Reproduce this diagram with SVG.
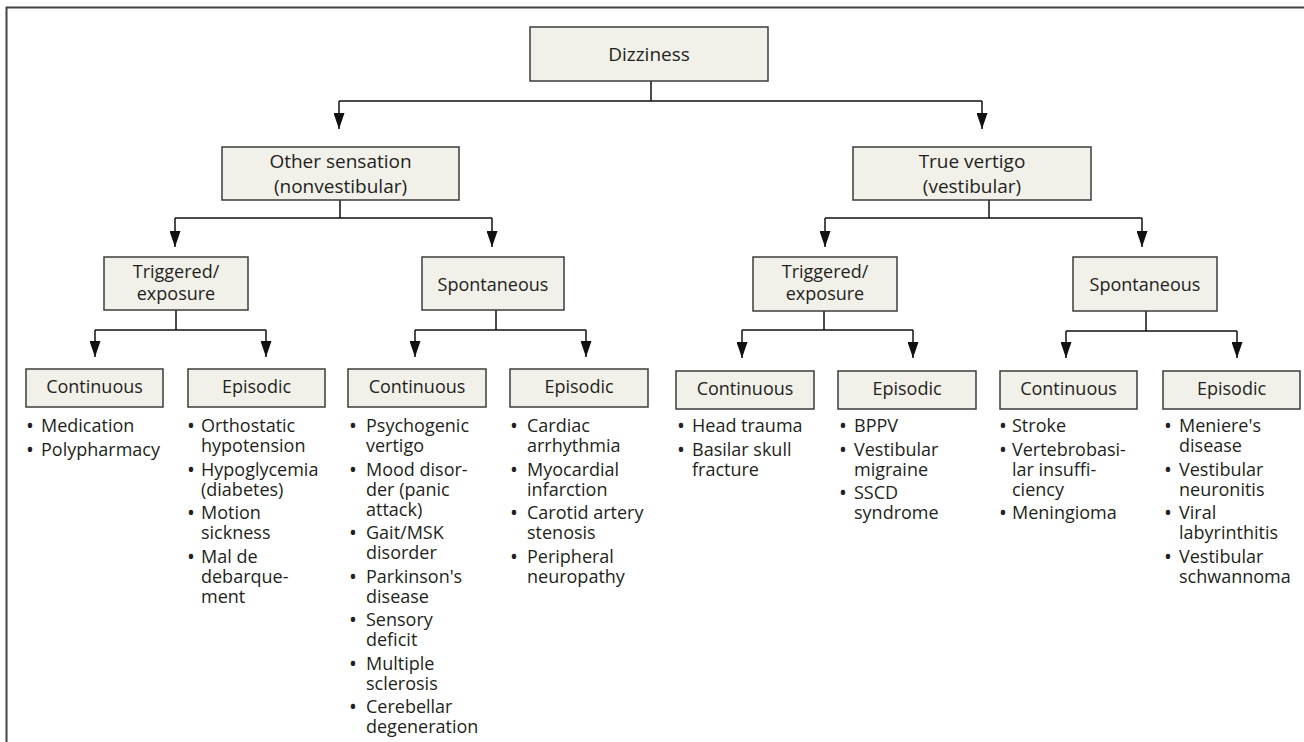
<svg xmlns="http://www.w3.org/2000/svg" width="1304" height="742" viewBox="0 0 1304 742">
<style>
.bx{fill:#f1f0e9;stroke:#3c3c3c;stroke-width:1.5}
.t{font-family:"Open Sans","Noto Sans","Liberation Sans",sans-serif;font-size:18px;fill:#231f20}
.tc{text-anchor:middle}
.big{font-size:19px}
.bu{text-anchor:middle;font-size:21px}
.c{stroke:#111;stroke-width:1.5;fill:none}
.a{stroke:#111;stroke-width:1.5;fill:none;marker-end:url(#ah)}
.frame{stroke:#444;stroke-width:2;fill:none}
</style>
<defs>
<marker id="ah" viewBox="0 0 16 11" refX="16" refY="5.5" markerWidth="16" markerHeight="11" markerUnits="userSpaceOnUse" orient="auto">
<path d="M0,0 L16,5.5 L0,11 z" fill="#111"/>
</marker>
</defs>
<rect width="1304" height="742" fill="#fff"/>
<path class="frame" d="M6.5,742 V7.5 H1304"/>

<g id="connectors">
<path class="c" d="M651,81 V101 M339,101 H982"/>
<path class="a" d="M339,101 V129"/>
<path class="a" d="M982,101 V129"/>
<path class="c" d="M340,200 V218 M175,218 H492"/>
<path class="a" d="M175,218 V247"/>
<path class="a" d="M492,218 V247"/>
<path class="c" d="M989,200 V218 M825,218 H1142"/>
<path class="a" d="M825,218 V247"/>
<path class="a" d="M1142,218 V247"/>
<path class="c" d="M176,310 V330 M95,330 H266"/>
<path class="a" d="M95,330 V357"/>
<path class="a" d="M266,330 V357"/>
<path class="c" d="M496,310 V330 M415,330 H586"/>
<path class="a" d="M415,330 V357"/>
<path class="a" d="M586,330 V357"/>
<path class="c" d="M824,311 V330 M742,330 H913"/>
<path class="a" d="M742,330 V358"/>
<path class="a" d="M913,330 V358"/>
<path class="c" d="M1146,311 V331 M1066,331 H1237"/>
<path class="a" d="M1066,331 V358"/>
<path class="a" d="M1237,331 V358"/>
</g>

<g id="n-dizziness">
<rect class="bx" x="530" y="27" width="238" height="54"/>
<text class="t tc big" x="649" y="61">Dizziness</text>
</g>

<g id="n-other">
<rect class="bx" x="222" y="147" width="237" height="53"/>
<text class="t tc big" x="340.5" y="168">Other sensation</text>
<text class="t tc big" x="340.5" y="193">(nonvestibular)</text>
</g>

<g id="n-true">
<rect class="bx" x="853" y="147" width="238" height="53"/>
<text class="t tc big" x="972" y="168">True vertigo</text>
<text class="t tc big" x="972" y="193">(vestibular)</text>
</g>

<g id="n-l-trig">
<rect class="bx" x="104" y="257" width="144" height="53"/>
<text class="t tc" x="176" y="278">Triggered/</text>
<text class="t tc" x="176" y="300">exposure</text>
</g>

<g id="n-l-spon">
<rect class="bx" x="422" y="257" width="142" height="53"/>
<text class="t tc" x="493" y="291">Spontaneous</text>
</g>

<g id="n-r-trig">
<rect class="bx" x="753" y="257" width="144" height="54"/>
<text class="t tc" x="825" y="278">Triggered/</text>
<text class="t tc" x="825" y="300">exposure</text>
</g>

<g id="n-r-spon">
<rect class="bx" x="1073" y="257" width="144" height="54"/>
<text class="t tc" x="1145" y="291">Spontaneous</text>
</g>

<g id="n-lt-cont">
<rect class="bx" x="26" y="369" width="137" height="38"/>
<text class="t tc" x="94.5" y="393">Continuous</text>
<text class="t bu"><tspan x="30" y="433">•</tspan><tspan x="30" y="457">•</tspan></text>
<text class="t"><tspan x="41" y="432">Medication</tspan><tspan x="41" y="456">Polypharmacy</tspan></text>
</g>

<g id="n-lt-epi">
<rect class="bx" x="188" y="369" width="137" height="38"/>
<text class="t tc" x="256.5" y="393">Episodic</text>
<text class="t bu"><tspan x="191" y="433">•</tspan><tspan x="191" y="477">•</tspan><tspan x="191" y="520">•</tspan><tspan x="191" y="564">•</tspan></text>
<text class="t"><tspan x="201" y="432">Orthostatic</tspan><tspan x="201" y="452">hypotension</tspan><tspan x="201" y="476">Hypoglycemia</tspan><tspan x="201" y="496">(diabetes)</tspan><tspan x="201" y="519">Motion</tspan><tspan x="201" y="539">sickness</tspan><tspan x="201" y="563">Mal de</tspan><tspan x="201" y="583">debarque-</tspan><tspan x="201" y="603">ment</tspan></text>
</g>

<g id="n-ls-cont">
<rect class="bx" x="348" y="369" width="138" height="38"/>
<text class="t tc" x="417" y="393">Continuous</text>
<text class="t bu"><tspan x="353" y="433">•</tspan><tspan x="353" y="477">•</tspan><tspan x="353" y="540">•</tspan><tspan x="353" y="584">•</tspan><tspan x="353" y="627">•</tspan><tspan x="353" y="671">•</tspan><tspan x="353" y="714">•</tspan></text>
<text class="t"><tspan x="366" y="432">Psychogenic</tspan><tspan x="366" y="452">vertigo</tspan><tspan x="366" y="476">Mood disor-</tspan><tspan x="366" y="496">der (panic</tspan><tspan x="366" y="516">attack)</tspan><tspan x="366" y="539">Gait/MSK</tspan><tspan x="366" y="559">disorder</tspan><tspan x="366" y="583">Parkinson's</tspan><tspan x="366" y="603">disease</tspan><tspan x="366" y="626">Sensory</tspan><tspan x="366" y="646">deficit</tspan><tspan x="366" y="670">Multiple</tspan><tspan x="366" y="690">sclerosis</tspan><tspan x="366" y="713">Cerebellar</tspan><tspan x="366" y="733">degeneration</tspan></text>
</g>

<g id="n-ls-epi">
<rect class="bx" x="510" y="369" width="138" height="38"/>
<text class="t tc" x="579" y="393">Episodic</text>
<text class="t bu"><tspan x="514" y="433">•</tspan><tspan x="514" y="477">•</tspan><tspan x="514" y="520">•</tspan><tspan x="514" y="564">•</tspan></text>
<text class="t"><tspan x="527" y="432">Cardiac</tspan><tspan x="527" y="452">arrhythmia</tspan><tspan x="527" y="476">Myocardial</tspan><tspan x="527" y="496">infarction</tspan><tspan x="527" y="519">Carotid artery</tspan><tspan x="527" y="539">stenosis</tspan><tspan x="527" y="563">Peripheral</tspan><tspan x="527" y="583">neuropathy</tspan></text>
</g>

<g id="n-rt-cont">
<rect class="bx" x="676" y="371" width="138" height="38"/>
<text class="t tc" x="745" y="395">Continuous</text>
<text class="t bu"><tspan x="681" y="433">•</tspan><tspan x="681" y="457">•</tspan></text>
<text class="t"><tspan x="692" y="432">Head trauma</tspan><tspan x="692" y="456">Basilar skull</tspan><tspan x="692" y="476">fracture</tspan></text>
</g>

<g id="n-rt-epi">
<rect class="bx" x="838" y="371" width="138" height="38"/>
<text class="t tc" x="907" y="395">Episodic</text>
<text class="t bu"><tspan x="843" y="433">•</tspan><tspan x="843" y="457">•</tspan><tspan x="843" y="500">•</tspan></text>
<text class="t"><tspan x="854" y="432">BPPV</tspan><tspan x="854" y="456">Vestibular</tspan><tspan x="854" y="476">migraine</tspan><tspan x="854" y="499">SSCD</tspan><tspan x="854" y="519">syndrome</tspan></text>
</g>

<g id="n-rs-cont">
<rect class="bx" x="1000" y="371" width="137" height="38"/>
<text class="t tc" x="1068.5" y="395">Continuous</text>
<text class="t bu"><tspan x="1003" y="433">•</tspan><tspan x="1003" y="457">•</tspan><tspan x="1003" y="520">•</tspan></text>
<text class="t"><tspan x="1012" y="432">Stroke</tspan><tspan x="1012" y="456">Vertebrobasi-</tspan><tspan x="1012" y="476">lar insuffi-</tspan><tspan x="1012" y="496">ciency</tspan><tspan x="1012" y="519">Meningioma</tspan></text>
</g>

<g id="n-rs-epi">
<rect class="bx" x="1163" y="371" width="137" height="38"/>
<text class="t tc" x="1231.5" y="395">Episodic</text>
<text class="t bu"><tspan x="1168" y="433">•</tspan><tspan x="1168" y="477">•</tspan><tspan x="1168" y="520">•</tspan><tspan x="1168" y="564">•</tspan></text>
<text class="t"><tspan x="1179" y="432">Meniere's</tspan><tspan x="1179" y="452">disease</tspan><tspan x="1179" y="476">Vestibular</tspan><tspan x="1179" y="496">neuronitis</tspan><tspan x="1179" y="519">Viral</tspan><tspan x="1179" y="539">labyrinthitis</tspan><tspan x="1179" y="563">Vestibular</tspan><tspan x="1179" y="583">schwannoma</tspan></text>
</g>
</svg>
